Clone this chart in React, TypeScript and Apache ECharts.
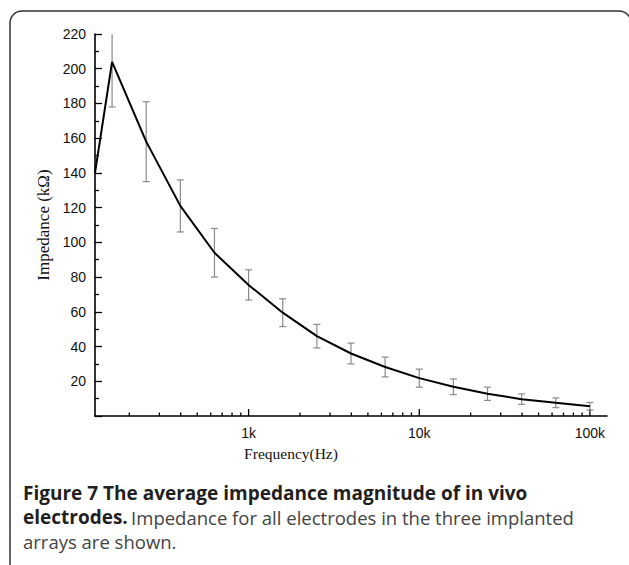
import React, { useEffect, useRef } from "react";
import * as echarts from "echarts";

const frequencies = [125.9, 158.5, 251.2, 398.1, 631, 1000, 1585, 2512, 3981, 6310, 10000, 15849, 25119, 39811, 63096, 100000];
const impedance = [140, 204, 158, 121, 94, 75.5, 59.5, 46, 36, 28.2, 21.8, 16.8, 12.8, 9.7, 7.6, 5.6];
const errors = [null, 26, 23, 15, 14, 8.7, 8, 6.8, 6, 5.7, 5.2, 4.5, 3.8, 3, 2.8, 2.2];
const majorTicks = [1000, 10000, 100000];
const minorTicks = [200, 300, 400, 500, 600, 700, 800, 900, 2000, 3000, 4000, 5000, 6000, 7000, 8000, 9000, 20000, 30000, 40000, 50000, 60000, 70000, 80000, 90000];
const xLabels: Record<number, string> = { 1000: "1k", 10000: "10k", 100000: "100k" };
const yMin = 0;
const yMax = 220;
const xMin = 125.89;
const xMax = 125893;

export default function App() {
  const ref = useRef<HTMLDivElement>(null);
  useEffect(() => {
    const chart = echarts.init(ref.current!, null, { renderer: "svg" });
    const lineData = frequencies.map((f, i) => [f, impedance[i]]);
    const errData = frequencies
      .map((f, i) => (errors[i] == null ? null : [f, impedance[i] - (errors[i] as number), impedance[i] + (errors[i] as number)]))
      .filter((d) => d !== null);
    const tickData = [
      ...majorTicks.map((t) => [t, 7]),
      ...minorTicks.map((t) => [t, 3.5]),
    ];
    chart.setOption({
      animation: false,
      grid: { left: 95, top: 34, right: 22, bottom: 149, containLabel: false },
      xAxis: {
        type: "log",
        logBase: 10,
        min: xMin,
        max: xMax,
        axisLine: { lineStyle: { color: "#000", width: 1.6 } },
        axisTick: { show: false },
        splitLine: { show: false },
        minorTick: { show: false },
        axisLabel: {
          showMinLabel: false,
          showMaxLabel: false,
          margin: 10,
          fontFamily: "Liberation Sans",
          fontSize: 14,
          color: "#111",
          formatter: (v: number) => {
            for (const k of majorTicks) {
              if (Math.abs(v - k) / k < 0.01) return xLabels[k];
            }
            return "";
          },
        },
      },
      yAxis: {
        type: "value",
        min: yMin,
        max: yMax,
        interval: 20,
        axisLine: { show: true, lineStyle: { color: "#000", width: 1.6 } },
        axisTick: { show: true, inside: true, length: 7, lineStyle: { color: "#000", width: 1.3 } },
        minorTick: { show: true, splitNumber: 2, length: 4, lineStyle: { color: "#000", width: 1.3 } },
        splitLine: { show: false },
        axisLabel: {
          showMinLabel: false,
          margin: 9,
          fontFamily: "Liberation Sans",
          fontSize: 14,
          color: "#111",
        },
      },
      series: [
        {
          type: "custom",
          data: tickData,
          clip: false,
          silent: true,
          renderItem: (params: any, api: any) => {
            const p = api.coord([api.value(0), yMin]);
            const len = api.value(1);
            return {
              type: "line",
              shape: { x1: p[0], y1: p[1], x2: p[0], y2: p[1] - len },
              style: { stroke: "#000", lineWidth: 1.3 },
            };
          },
        },
        {
          type: "custom",
          data: errData,
          silent: true,
          renderItem: (params: any, api: any) => {
            const x = api.value(0);
            const lo = api.value(1);
            const hi = api.value(2);
            const hiC = Math.min(hi, yMax);
            const pLo = api.coord([x, lo]);
            const pHi = api.coord([x, hiC]);
            const cw = 3.5;
            const children: any[] = [
              { type: "line", shape: { x1: pLo[0], y1: pLo[1], x2: pHi[0], y2: pHi[1] }, style: { stroke: "#8a8a8a", lineWidth: 1.2 } },
              { type: "line", shape: { x1: pLo[0] - cw, y1: pLo[1], x2: pLo[0] + cw, y2: pLo[1] }, style: { stroke: "#8a8a8a", lineWidth: 1.2 } },
            ];
            if (hi <= yMax) {
              children.push({ type: "line", shape: { x1: pHi[0] - cw, y1: pHi[1], x2: pHi[0] + cw, y2: pHi[1] }, style: { stroke: "#8a8a8a", lineWidth: 1.2 } });
            }
            return { type: "group", children };
          },
        },
        {
          type: "line",
          data: lineData,
          showSymbol: false,
          symbol: "none",
          lineStyle: { color: "#000", width: 2 },
          silent: true,
        },
      ],
      graphic: [
        {
          type: "rect",
          shape: { x: 10, y: 11, width: 621, height: 570, r: 12 },
          style: { fill: "none", stroke: "#333", lineWidth: 1.5 },
          silent: true,
        },
        {
          type: "text",
          x: 43,
          y: 225,
          rotation: Math.PI / 2,
          style: {
            text: "Impedance (kΩ)",
            fontFamily: "Liberation Serif",
            fontSize: 17,
            fill: "#111",
            align: "center",
            verticalAlign: "middle",
          },
        },
        {
          type: "text",
          x: 291,
          y: 453,
          style: {
            text: "Frequency(Hz)",
            fontFamily: "Liberation Serif",
            fontSize: 15.5,
            fill: "#111",
            align: "center",
            verticalAlign: "middle",
          },
        },
        {
          type: "text",
          x: 23,
          y: 493,
          style: {
            text: "Figure 7 The average impedance magnitude of in vivo",
            fontFamily: "Open Sans",
            fontWeight: "bold",
            fontSize: 19,
            fill: "#231f20",
            align: "left",
            verticalAlign: "middle",
          },
        },
        {
          type: "text",
          x: 23,
          y: 517,
          style: {
            text: "{b|electrodes.} {r|Impedance for all electrodes in the three implanted}",
            align: "left",
            verticalAlign: "middle",
            rich: {
              b: { fontFamily: "Open Sans", fontWeight: "bold", fontSize: 19, fill: "#231f20" },
              r: { fontFamily: "Open Sans", fontWeight: "normal", fontSize: 18.5, fill: "#444" },
            },
          },
        },
        {
          type: "text",
          x: 23,
          y: 541,
          style: {
            text: "arrays are shown.",
            fontFamily: "Open Sans",
            fontSize: 18.5,
            fill: "#444",
            align: "left",
            verticalAlign: "middle",
          },
        },
      ],
    });
    return () => chart.dispose();
  }, []);
  return <div ref={ref} style={{ position: "fixed", left: 0, top: 0, width: 629, height: 565, background: "#fff" }} />;
}
